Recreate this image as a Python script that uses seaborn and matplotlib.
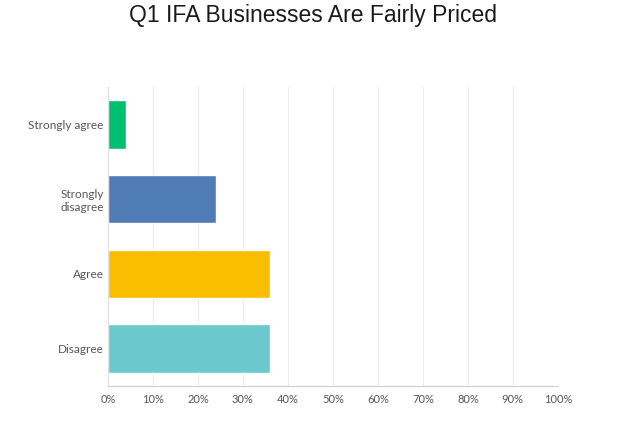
import matplotlib
matplotlib.use("Agg")
import matplotlib.pyplot as plt
import seaborn as sns
import pandas as pd
from matplotlib.ticker import PercentFormatter

answers = ["Strongly agree", "Strongly\ndisagree", "Agree", "Disagree"]
share = [4, 24, 36, 36]
colors = ["#00BF6F", "#507CB6", "#F9BE00", "#6BC8CD"]
x_ticks = [0, 10, 20, 30, 40, 50, 60, 70, 80, 90, 100]

df = pd.DataFrame({"Answer": answers, "Share": share})

sns.set_style("white")
plt.rcParams["font.family"] = ["Lato", "DejaVu Sans"]

fig = plt.figure(figsize=(6.24, 4.30), dpi=100)
ax = fig.add_axes([0.173, 0.102, 0.721, 0.696])

sns.barplot(data=df, x="Share", y="Answer", hue="Answer", palette=colors,
            legend=False, width=0.65, saturation=1, ax=ax)

ax.set_xlim(0, 100)
ax.set_xticks(x_ticks)
ax.xaxis.set_major_formatter(PercentFormatter(decimals=0))
ax.grid(axis="x", color="#ececec", linewidth=0.8)
ax.set_axisbelow(True)
ax.set_xlabel("")
ax.set_ylabel("")

for side in ["top", "right"]:
    ax.spines[side].set_visible(False)
ax.spines["bottom"].set_color("#d0d0d0")
ax.spines["left"].set_color("#e0e0e0")

ax.tick_params(axis="x", length=0, labelsize=8, labelcolor="#555555", pad=6)
ax.tick_params(axis="y", length=0, labelsize=8.5, labelcolor="#555555", pad=3)
for lbl in ax.get_yticklabels():
    lbl.set_multialignment("center")

fig.text(0.502, 0.965, "Q1 IFA Businesses Are Fairly Priced", ha="center", va="center",
         fontsize=16.5, family="Liberation Sans", color="#1a1a1a")

fig.savefig("out.png", dpi=100)
